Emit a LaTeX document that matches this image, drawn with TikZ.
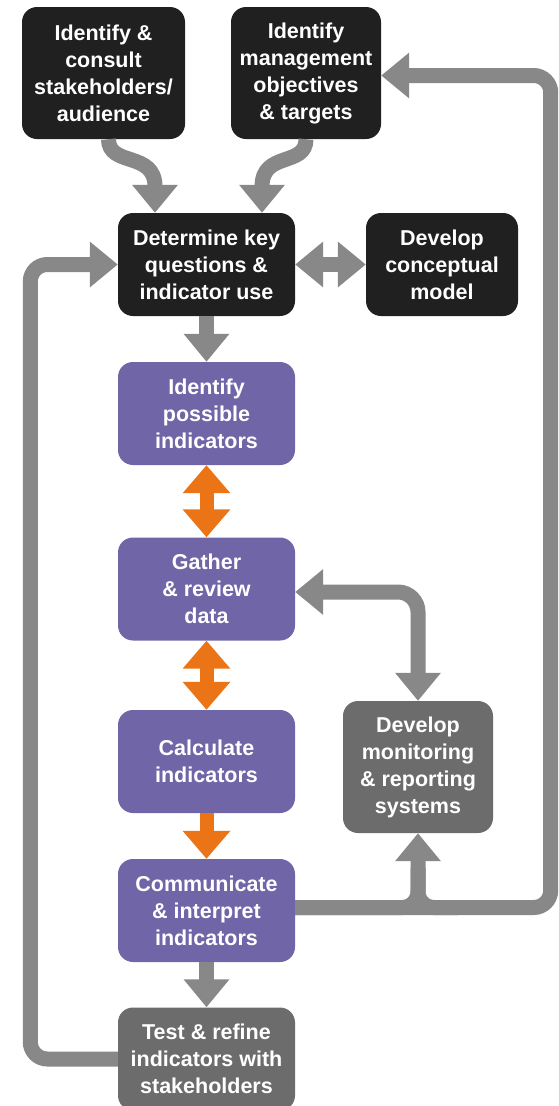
\documentclass[tikz,border=0pt]{standalone}
\usepackage{fontspec}
\setmainfont{Liberation Sans}
\usetikzlibrary{arrows.meta}
\definecolor{boxblack}{RGB}{32,32,32}
\definecolor{boxpurple}{RGB}{112,101,167}
\definecolor{boxgray}{RGB}{108,108,108}
\definecolor{arrowgray}{RGB}{136,136,136}
\definecolor{arroworange}{RGB}{235,117,22}

\begin{document}
\begin{tikzpicture}[x=1pt,y=-1pt,
    box/.style={rounded corners=15pt,text=white,align=center,inner sep=0pt,
      font=\fontsize{21.5}{27}\selectfont\bfseries},
    blackbox/.style={box,fill=boxblack},
    purplebox/.style={box,fill=boxpurple,minimum width=177pt,minimum height=103pt},
    graybox/.style={box,fill=boxgray},
    gline/.style={draw=arrowgray,line width=15pt},
    garrow/.style={gline,-{Triangle[width=44pt,length=28pt]}},
    gboth/.style={gline,{Triangle[width=44pt,length=28pt]}-{Triangle[width=44pt,length=28pt]}},
    oarrow/.style={draw=arroworange,line width=14pt,-{Triangle[width=46pt,length=28pt]}},
    oboth/.style={draw=arroworange,line width=14pt,{Triangle[width=46pt,length=28pt]}-{Triangle[width=46pt,length=28pt]}}]
  \useasboundingbox[fill=white] (0,0) rectangle (558,1106);

  \node[blackbox,minimum width=163pt,minimum height=132pt] (stake) at (103.5,73) {Identify \&\\consult\\stakeholders/\\audience};
  \node[blackbox,minimum width=150pt,minimum height=132pt] (objectives) at (306,73) {Identify\\management\\objectives\\\& targets};
  \node[blackbox,minimum width=177pt,minimum height=103pt] (keyq) at (206.5,264.5) {Determine key\\questions \&\\indicator use};
  \node[blackbox,minimum width=152pt,minimum height=103pt] (concept) at (442,264.5) {Develop\\conceptual\\model};
  \node[purplebox] (possible) at (206.5,413.5) {Identify\\possible\\indicators};
  \node[purplebox] (gather) at (206.5,589) {Gather\\\& review\\data};
  \node[purplebox] (calc) at (206.5,761.5) {Calculate\\indicators};
  \node[purplebox] (comm) at (206.5,910.5) {Communicate\\\& interpret\\indicators};
  \node[graybox,minimum width=177pt,minimum height=103pt] (test) at (206.5,1059) {Test \& refine\\indicators with\\stakeholders};
  \node[graybox,minimum width=150pt,minimum height=132pt] (monitor) at (418,767) {Develop\\monitoring\\\& reporting\\systems};

  \draw[garrow] ([xshift=5pt]stake.south) .. controls +(0,28) and +(0,-62) .. ([xshift=-51.5pt]keyq.north);
  \draw[garrow] (objectives.south) .. controls +(0,28) and +(0,-62) .. ([xshift=55.5pt]keyq.north);
  \draw[gboth] (keyq.east) -- (concept.west);
  \draw[garrow] (keyq.south) -- (possible.north);
  \draw[oboth] (possible.south) -- (gather.north);
  \draw[oboth] (gather.south) -- (calc.north);
  \draw[oarrow] (calc.south) -- (comm.north);
  \draw[garrow] (comm.south) -- (test.north);

  \draw[gboth,rounded corners=20pt] ([yshift=-3pt]gather.east) -| (monitor.north);
  \draw[garrow,rounded corners=17pt] ([yshift=3pt]comm.east) -- ++(255.5,0) |- ([yshift=-2.5pt]objectives.east);
  \coordinate (join) at ([yshift=3pt]monitor.south |- comm.east);
  \draw[garrow,rounded corners=16pt] ([yshift=3pt]comm.east) -| (monitor.south);
  \draw[gline,rounded corners=16pt] ([xshift=40pt]join) -| ([yshift=40pt]join);
  \draw[garrow,rounded corners=17pt] (test.west) -- ++(-87.5,0) |- (keyq.west);
\end{tikzpicture}
\end{document}
